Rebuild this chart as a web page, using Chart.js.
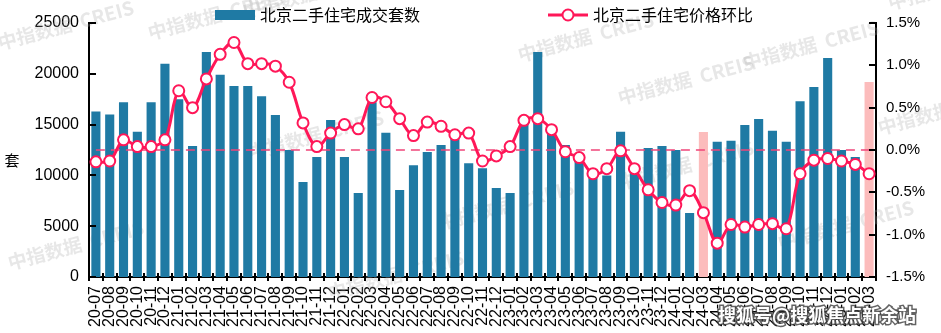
<!DOCTYPE html>
<html>
<head>
<meta charset="utf-8">
<script src="https://cdn.jsdelivr.net/npm/chart.js@4.4.1/dist/chart.umd.min.js"></script>
<style>
  html, body { margin: 0; padding: 0; background: #fff; }
</style>
</head>
<body>
<canvas id="chart" width="941" height="333"></canvas>
<script>
const months = [
  "20-07","20-08","20-09","20-10","20-11","20-12",
  "21-01","21-02","21-03","21-04","21-05","21-06","21-07","21-08","21-09","21-10","21-11","21-12",
  "22-01","22-02","22-03","22-04","22-05","22-06","22-07","22-08","22-09","22-10","22-11","22-12",
  "23-01","23-02","23-03","23-04","23-05","23-06","23-07","23-08","23-09","23-10","23-11","23-12",
  "24-01","24-02","24-03","24-04","24-05","24-06","24-07","24-08","24-09","24-10","24-11","24-12",
  "25-01","25-02","25-03"
];
// 北京二手住宅成交套数
const deals = [
  16300, 16000, 17200, 14300, 17200, 21000,
  17500, 12900, 22150, 19900, 18800, 18800, 17800, 15950, 12500, 9350, 11800, 15450,
  11800, 8270, 17200, 14200, 8560, 11000, 12300, 13000, 14000, 11200, 10700, 8760,
  8270, 15250, 22150, 14270, 13000, 11500, 10300, 10000, 14300, 11000, 12700, 12900,
  12500, 6300, 14270, 13300, 13400, 14960, 15550, 14400, 13300, 17300, 18700, 21550,
  12500, 11800, 19200
];
// 北京二手住宅价格环比 (%)
const priceMoM = [
  -0.14, -0.13, 0.12, 0.04, 0.04, 0.12,
  0.70, 0.50, 0.84, 1.13, 1.27, 1.02, 1.02, 0.99, 0.80, 0.32, 0.04, 0.20,
  0.30, 0.25, 0.62, 0.57, 0.37, 0.17, 0.33, 0.28, 0.18, 0.20, -0.13, -0.07,
  0.04, 0.35, 0.37, 0.24, -0.02, -0.09, -0.28, -0.22, -0.01, -0.22, -0.47, -0.62,
  -0.65, -0.48, -0.74, -1.10, -0.88, -0.91, -0.88, -0.87, -0.93, -0.28, -0.12, -0.10,
  -0.13, -0.17, -0.28
];
const zeroLine = months.map(() => 0);
const highlight = ["24-03", "25-03"];
const leftTicks = [0, 5000, 10000, 15000, 20000, 25000];
const rightTicks = [-1.5, -1.0, -0.5, 0.0, 0.5, 1.0, 1.5];

const BLUE = "#1f7aa4";
const PINK = "#fcbcbc";
const RED = "#ff1758";
const FONT = "'Liberation Sans', 'Noto Sans CJK SC', sans-serif";

const barColors = months.map(m => highlight.includes(m) ? PINK : BLUE);

const extras = {
  id: "extras",
  beforeDatasetsDraw(chart) {
    const ctx = chart.ctx;
    // watermarks
    ctx.save();
    ctx.font = "bold 19px 'Noto Sans CJK SC', sans-serif";
    ctx.fillStyle = "rgba(170,170,170,0.28)";
    const marks = [[0, 50], [150, 40], [245, 18], [520, 62], [620, 105], [250, 160], [10, 270], [745, 70], [890, 10], [620, 190], [880, 135], [440, 230], [780, 250], [330, 300]];
    marks.forEach(([x, y]) => {
      ctx.save();
      ctx.translate(x, y);
      ctx.rotate(-0.26);
      ctx.fillText("中指数据  CREIS", 0, 0);
      ctx.restore();
    });
    ctx.restore();
  },
  afterDraw(chart) {
    const ctx = chart.ctx;
    const area = chart.chartArea;
    const { x, y, y1 } = chart.scales;
    ctx.save();

    // tick marks: inward on y axes, crossing on x axis
    ctx.strokeStyle = "#000";
    ctx.lineWidth = 2;
    ctx.beginPath();
    y.ticks.forEach((t, i) => {
      const py = Math.round(y.getPixelForTick(i));
      ctx.moveTo(area.left, py);
      ctx.lineTo(area.left + 7, py);
    });
    y1.ticks.forEach((t, i) => {
      const py = Math.round(y1.getPixelForTick(i));
      ctx.moveTo(area.right - 7, py);
      ctx.lineTo(area.right, py);
    });
    const half = (x.getPixelForValue(1) - x.getPixelForValue(0)) / 2;
    for (let i = 0; i <= months.length; i++) {
      const px = Math.round(x.getPixelForValue(i) - half);
      ctx.moveTo(px, area.bottom - 4);
      ctx.lineTo(px, area.bottom + 4);
    }
    ctx.stroke();

    // axis title
    ctx.font = "15px 'Noto Sans CJK SC', sans-serif";
    ctx.fillStyle = "#000";
    ctx.textAlign = "center";
    ctx.textBaseline = "middle";
    ctx.fillText("套", 12, 160);

    // legend
    ctx.font = "16px 'Noto Sans CJK SC', sans-serif";
    ctx.textAlign = "left";
    ctx.fillStyle = BLUE;
    ctx.fillRect(215, 10, 40, 10);
    ctx.fillStyle = "#000";
    ctx.fillText(chart.data.datasets[2].label, 260, 15);

    ctx.strokeStyle = RED;
    ctx.lineWidth = 3;
    ctx.beginPath();
    ctx.moveTo(548, 15);
    ctx.lineTo(588, 15);
    ctx.stroke();
    ctx.beginPath();
    ctx.arc(568, 15, 5.5, 0, Math.PI * 2);
    ctx.fillStyle = "#fff";
    ctx.fill();
    ctx.lineWidth = 2;
    ctx.stroke();
    ctx.fillStyle = "#000";
    ctx.fillText(chart.data.datasets[0].label, 593, 15);

    // source watermark
    ctx.font = "bold 18px 'Noto Sans CJK SC', sans-serif";
    ctx.lineWidth = 3;
    ctx.strokeStyle = "rgba(60,60,60,0.8)";
    ctx.fillStyle = "#fff";
    ctx.strokeText("搜狐号@搜狐焦点新余站", 718, 315);
    ctx.fillText("搜狐号@搜狐焦点新余站", 718, 315);
    ctx.restore();
  }
};

new Chart(document.getElementById("chart"), {
  data: {
    labels: months,
    datasets: [
      {
        type: "line",
        label: "北京二手住宅价格环比",
        data: priceMoM,
        yAxisID: "y1",
        borderColor: RED,
        borderWidth: 3,
        tension: 0.35,
        pointRadius: 5.5,
        pointHoverRadius: 5.5,
        pointBackgroundColor: "#fff",
        pointBorderColor: RED,
        pointBorderWidth: 2,
        order: 0
      },
      {
        type: "line",
        label: "zero",
        data: zeroLine,
        yAxisID: "y1",
        borderColor: "#f0457a",
        borderWidth: 1.5,
        borderDash: [9, 6],
        pointRadius: 0,
        order: 1
      },
      {
        type: "bar",
        label: "北京二手住宅成交套数",
        data: deals,
        yAxisID: "y",
        backgroundColor: barColors,
        barPercentage: 0.66,
        categoryPercentage: 1,
        order: 2
      }
    ]
  },
  options: {
    responsive: false,
    animation: false,
    layout: { padding: { top: 23, left: 0, right: 0, bottom: 0 } },
    plugins: {
      legend: { display: false },
      tooltip: { enabled: false }
    },
    scales: {
      x: {
        afterFit: s => { s.height = 56; },
        border: { display: true, color: "#000", width: 2 },
        grid: { display: false, drawTicks: false },
        ticks: {
          autoSkip: false, maxRotation: 90, minRotation: 90, padding: 9,
          color: "#000", font: { family: FONT, size: 16 }
        }
      },
      y: {
        position: "left",
        min: 0, max: 25000,
        afterFit: s => { s.width = 89; },
        afterBuildTicks: s => { s.ticks = leftTicks.map(v => ({ value: v })); },
        border: { display: true, color: "#000", width: 2 },
        grid: { display: false, drawTicks: false },
        ticks: {
          padding: 10, color: "#000", font: { family: FONT, size: 16 },
          callback: v => String(v)
        }
      },
      y1: {
        position: "right",
        min: -1.5, max: 1.5,
        afterFit: s => { s.width = 65; },
        afterBuildTicks: s => { s.ticks = rightTicks.map(v => ({ value: v })); },
        border: { display: true, color: "#000", width: 2 },
        grid: { display: false, drawTicks: false },
        ticks: {
          padding: 10, color: "#000", font: { family: FONT, size: 15 },
          callback: v => v.toFixed(1) + "%"
        }
      }
    }
  },
  plugins: [extras]
});
</script>
</body>
</html>
